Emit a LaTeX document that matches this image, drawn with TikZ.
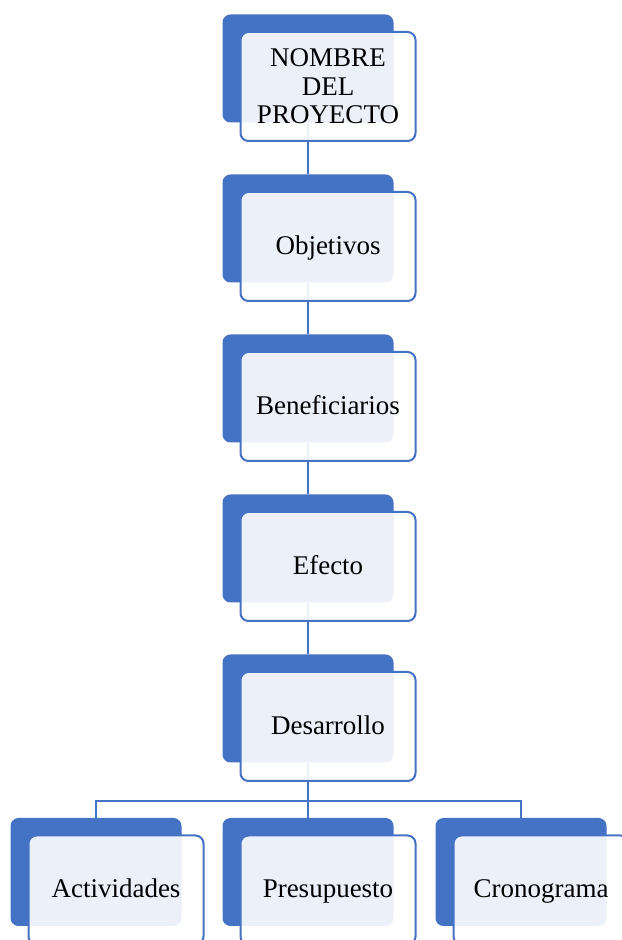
\documentclass[tikz,border=0pt]{standalone}
\usepackage{fontspec}
\setmainfont{Liberation Serif}
\usetikzlibrary{positioning,calc,backgrounds}
\definecolor{sablue}{RGB}{68,114,196}

\begin{document}
\begin{tikzpicture}[line join=round,
  backbox/.style={fill=sablue, rounded corners=8bp, minimum width=171bp, minimum height=108bp, inner sep=0pt},
  frontbox/.style={draw=sablue, line width=2bp, fill=white, fill opacity=0.9, text opacity=1,
    rounded corners=8bp, minimum width=175bp, minimum height=109bp, inner sep=0pt,
    align=center, font={\fontsize{27bp}{28.5bp}\selectfont}},
  oneline/.style={text height=20bp, text depth=4bp},
  link/.style={draw=sablue, line width=2bp}]
  \useasboundingbox (0,0) rectangle (622bp,940bp);
  % vertical chain
  \foreach \i/\txt/\y/\sty in {1/{NOMBRE\\DEL\\PROYECTO}/871.5/{}, 2/Objetivos/711.5/oneline,
                               3/Beneficiarios/551.5/oneline, 4/Efecto/391.5/oneline,
                               5/Desarrollo/231.5/oneline} {
    \node[backbox] (b\i) at (308bp,\y bp) {};
    \node[frontbox, \sty, shift={(20bp,-18bp)}] (f\i) at (b\i) {\txt};
  }
  % bottom row
  \foreach \i/\txt/\x in {6/Actividades/96, 7/Presupuesto/308, 8/Cronograma/521} {
    \node[backbox] (b\i) at (\x bp,68bp) {};
    \node[frontbox, oneline, shift={(20bp,-18bp)}] (f\i) at (b\i) {\txt};
  }
  % connectors
  \begin{scope}[on background layer]
    \foreach \i [evaluate=\i as \j using int(\i+1)] in {1,...,4}
      \draw[link] (b\i.south) -- (b\j.north);
    \coordinate (bar) at ($(b7.north)+(0,17bp)$);
    \draw[link] (b5.south) -- (b7.north);
    \draw[link] (b6.north) |- (bar) -| (b8.north);
  \end{scope}
\end{tikzpicture}
\end{document}
